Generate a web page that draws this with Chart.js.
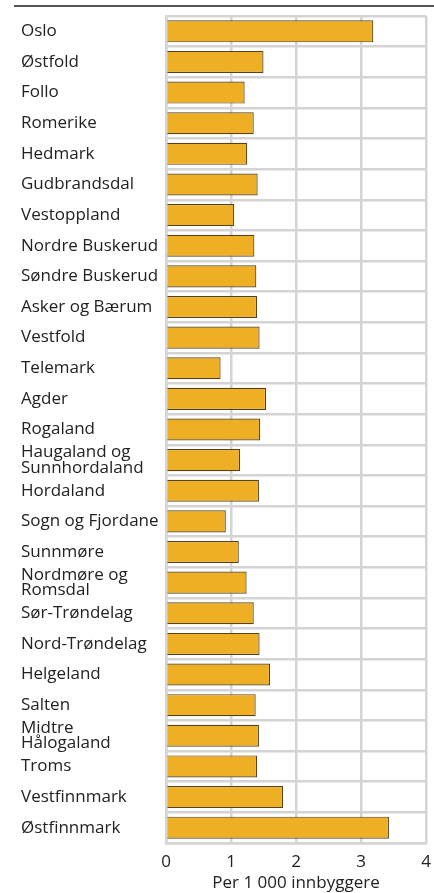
<!DOCTYPE html>
<html>
<head>
<meta charset="utf-8">
<script src="https://cdn.jsdelivr.net/npm/chart.js@4.4.1/dist/chart.umd.min.js"></script>
<style>
  html, body { margin: 0; padding: 0; background: #fff; }
  #wrap { position: relative; width: 434px; height: 893px; }
  #rule { position: absolute; left: 14px; top: 5px; width: 420px; height: 0; border-top: 2px solid #555; }
  canvas { position: absolute; left: 0; top: 0; }
</style>
</head>
<body>
<div id="wrap">
  <div id="rule"></div>
  <canvas id="myChart" width="434" height="893"></canvas>
</div>
<script>
// regions, top to bottom
const regions = [
  'Oslo', 'Østfold', 'Follo', 'Romerike', 'Hedmark', 'Gudbrandsdal', 'Vestoppland',
  'Nordre Buskerud', 'Søndre Buskerud', 'Asker og Bærum', 'Vestfold', 'Telemark',
  'Agder', 'Rogaland', ['Haugaland og', 'Sunnhordaland'], 'Hordaland', 'Sogn og Fjordane',
  'Sunnmøre', ['Nordmøre og', 'Romsdal'], 'Sør-Trøndelag', 'Nord-Trøndelag', 'Helgeland',
  'Salten', ['Midtre', 'Hålogaland'], 'Troms', 'Vestfinnmark', 'Østfinnmark'
];

// per 1 000 inhabitants
const perThousand = [
  3.19, 1.50, 1.21, 1.35, 1.25, 1.41, 1.05,
  1.36, 1.39, 1.40, 1.44, 0.84,
  1.54, 1.45, 1.14, 1.43, 0.92,
  1.12, 1.24, 1.35, 1.44, 1.60,
  1.38, 1.43, 1.40, 1.80, 3.43
];

const xTicks = [0, 1, 2, 3, 4];
const xTitle = 'Per 1 000 innbyggere';

const font = '"Open Sans", "Noto Sans", sans-serif';
const gridColor = '#d4d4d4';

const ctx = document.getElementById('myChart').getContext('2d');
const chart = new Chart(ctx, {
  type: 'bar',
  data: {
    labels: regions,
    datasets: [{
      data: perThousand,
      backgroundColor: '#efaf24',
      borderColor: '#54421e',
      borderWidth: 1.2,
      barPercentage: 0.72,
      categoryPercentage: 1
    }]
  },
  options: {
    indexAxis: 'y',
    responsive: false,
    animation: false,
    layout: {
      padding: { left: 21, right: 8, top: 16, bottom: 0 }
    },
    plugins: {
      legend: { display: false },
      tooltip: { enabled: false }
    },
    scales: {
      x: {
        min: xTicks[0],
        max: xTicks[xTicks.length - 1],
        afterBuildTicks: (s) => { s.ticks = xTicks.map(v => ({ value: v })) },
        ticks: { color: '#222', font: { family: font, size: 17 }, padding: 9 },
        grid: { color: gridColor, lineWidth: 2.5, drawTicks: false },
        border: { color: gridColor, width: 2.5 },
        title: {
          display: true,
          text: xTitle,
          color: '#222',
          font: { family: font, size: 17 },
          padding: { top: 0, bottom: 0 }
        },
        afterFit: (s) => {
          s.height = 50
          // don't let the "4" label push the plot in
          s.paddingLeft = 0
          s.paddingRight = 0
        }
      },
      y: {
        ticks: {
          color: '#222',
          crossAlign: 'far',
          autoSkip: false,
          padding: 0,
          font: { family: font, size: 17, lineHeight: 0.92 }
        },
        grid: { color: gridColor, lineWidth: 2.5, drawTicks: false },
        border: { color: gridColor, width: 2.5 },
        afterFit: (s) => { s.width = 145 }
      }
    }
  }
});
</script>
</body>
</html>
